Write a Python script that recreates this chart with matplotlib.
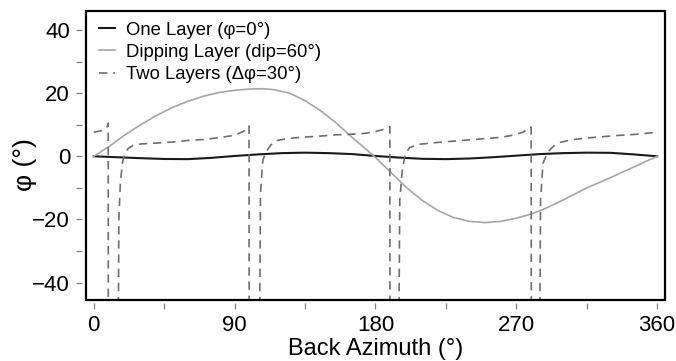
import matplotlib
matplotlib.use('Agg')
import matplotlib.pyplot as plt
from matplotlib.patches import Rectangle
import numpy as np

plt.rcParams['font.family'] = ['Liberation Sans', 'DejaVu Sans']

# One layer (phi = 0)
one_x = [0, 15, 30, 45, 60, 75, 90, 105, 120, 135, 150, 165, 180,
         195, 210, 225, 240, 255, 270, 285, 300, 315, 330, 345, 360]
one_y = [0, -0.3, -0.6, -0.85, -0.9, -0.5, 0.1, 0.6, 1.0, 1.15, 1.0, 0.7, 0.1,
         -0.4, -0.8, -0.9, -0.7, -0.3, 0.2, 0.7, 1.0, 1.15, 1.1, 0.6, 0]

# Dipping layer (dip = 60)
dip_x = [0, 10, 20, 30, 40, 50, 60, 70, 80, 90, 100, 108, 115, 125, 135, 145, 155,
         165, 175, 180, 190, 200, 210, 220, 230, 240, 250, 260, 270, 280, 290,
         300, 315, 330, 345, 360]
dip_y = [0, 3.2, 6.8, 10.0, 12.9, 15.4, 17.4, 19.0, 20.2, 20.9, 21.3, 21.4, 21.1, 20.0,
         17.6, 14.4, 10.5, 6.0, 1.8, -0.4, -5.2, -10.0, -14.0, -17.2, -19.4, -20.6,
         -21.0, -20.6, -19.6, -18.2, -16.2, -13.8, -10.0, -6.8, -3.4, 0]

# Two layers (delta phi = 30)
two_x = [0, 4, 7, 8.5, 9.2, 9.3, 15.3, 16, 17, 18.5, 20, 22, 25, 30, 40, 50, 60, 70, 80,
         88, 93, 96, 98.5, 99.2, 99.3, 105.5, 106.5, 108, 110, 113, 117, 125, 135, 145,
         155, 165, 172, 178, 183, 187, 189.2, 189.3, 194.5, 195.5, 197, 199, 202, 208,
         220, 235, 250, 260, 268, 274, 277.5, 279.5, 279.6, 284.5, 285.5, 287, 290, 294,
         298, 305, 315, 325, 335, 345, 360]
two_y = [7.6, 8.0, 8.5, 9.3, 10.5, -90, -90, -20, -8, -1.5, 1.0, 2.5, 3.4, 3.9, 4.2, 4.5,
         5.0, 5.3, 5.9, 6.5, 7.3, 8.0, 9.0, 9.6, -90, -90, -12, -1.3, 1.3, 3.5, 5.0, 5.7,
         6.1, 6.4, 6.8, 7.0, 7.2, 7.6, 8.2, 8.8, 9.4, -90, -90, -14, -5, 0.9, 2.8, 3.8,
         4.4, 5.0, 5.6, 6.0, 6.7, 7.6, 8.6, 9.3, -90, -90, -14, -2.3, 1.3, 3.3, 4.4, 5.2,
         5.8, 6.2, 6.6, 6.9, 7.6]

fig = plt.figure(figsize=(6.76, 3.61), dpi=100)
ax = fig.add_axes([0.1272, 0.169, 0.8565, 0.8005])

ax.plot(one_x, one_y, color='#1a1a1a', lw=1.5, label='One Layer (φ=0°)')
ax.plot(dip_x, dip_y, color='#a6a6a6', lw=1.2, label='Dipping Layer (dip=60°)')
ax.plot(two_x, two_y, color='#6e6e6e', lw=1.2, ls=(0, (5, 3.5)), label='Two Layers (Δφ=30°)')

ax.set_xlim(-5, 365)
ax.set_ylim(-45.5, 46)
ax.set_xticks([0, 90, 180, 270, 360])
ax.set_xticks([45, 135, 225, 315], minor=True)
ax.set_yticks([-40, -20, 0, 20, 40])
ax.set_yticks([-30, -10, 10, 30], minor=True)
ax.set_yticklabels(['\u221240', '\u221220', '0', '20', '40'])

for s in ax.spines.values():
    s.set_visible(False)
ax.spines['left'].set_position(('outward', 3))
ax.spines['bottom'].set_position(('outward', 2))
ax.add_patch(Rectangle((0, 0), 1, 1, transform=ax.transAxes, fill=False,
                       edgecolor='black', lw=1.6, clip_on=False, zorder=5))

ax.tick_params(which='both', direction='out', length=4.5, width=0.9, color='#808080',
               labelsize=16, pad=4, top=False, right=False)

ax.set_xlabel('Back Azimuth (°)', fontsize=17, labelpad=1.5)
ax.set_ylabel('φ (°)', fontsize=19)
ax.yaxis.set_label_coords(-0.085, 0.47)

ax.legend(loc='upper left', bbox_to_anchor=(0.022, 0.963), frameon=False, fontsize=13.3,
          handlelength=0.9, handletextpad=0.55, labelspacing=0.28, borderpad=0,
          borderaxespad=0)

fig.savefig('out.png', dpi=100)
